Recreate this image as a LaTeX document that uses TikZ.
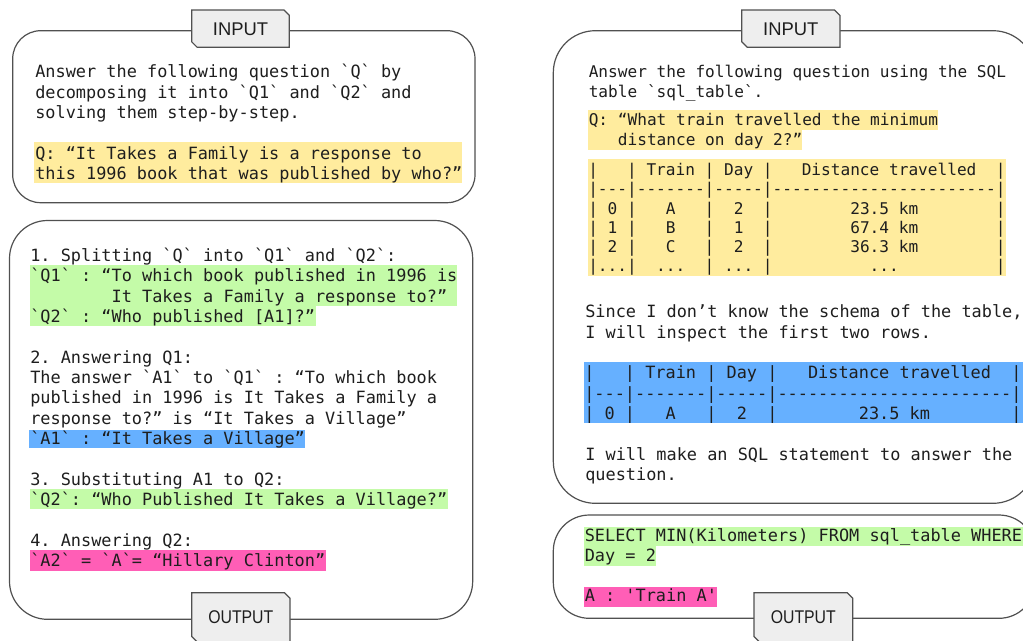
\documentclass[tikz,border=0pt]{standalone}
\usepackage{fontspec}
\usepackage{graphicx}
\setmonofont{DejaVu Sans Mono}
\setsansfont{Liberation Sans}
\frenchspacing
\definecolor{hlyellow}{HTML}{FFEC9E}
\definecolor{hlgreen}{HTML}{C4FBA8}
\definecolor{hlblue}{HTML}{66B0FF}
\definecolor{hlpink}{HTML}{FF5EB6}
\definecolor{taggray}{HTML}{EEEEEE}
\definecolor{edgegray}{HTML}{505050}
\definecolor{ink}{HTML}{1E1E1E}
\begin{document}
\begin{tikzpicture}[x=0.75pt,y=-0.75pt,
  box/.style={draw=edgegray, line width=0.9pt, fill=white},
  tagbox/.style={draw=edgegray, line width=0.9pt, fill=taggray},
  taglabel/.style={font=\sffamily\fontsize{13.8}{16}\selectfont, text=ink, inner sep=0},
  ltxt/.style={anchor=base west, inner sep=0, text=ink, font=\ttfamily\fontsize{12.67}{15}\selectfont},
  stxt/.style={anchor=base west, inner sep=0, text=ink, font=\ttfamily\fontsize{12.09}{14}\selectfont},
]
\useasboundingbox (0,0) rectangle (1023,640);
\clip (0,0) rectangle (1023,640);

% ---------- boxes ----------
\draw[box, rounded corners=21pt] (12.7,30.7) rectangle (475,202.7);
\draw[box, rounded corners=28.5pt] (9.5,220.5) rectangle (472.7,619.3);
\draw[box, rounded corners=31.5pt] (553.3,30.7) rectangle (1035,503.3);
\draw[box, rounded corners=27pt] (553.3,515) rectangle (1035,618.3);

% ---------- tags ----------
\draw[tagbox] (191.7,10) -- (284,10) -- (289.3,15.3) -- (289.3,47.3) -- (197.2,47.3) -- (191.7,41.8) -- cycle;
\node[taglabel] (tagLin) at (240.5,28.9) {INPUT};
\draw[tagbox] (191.7,592.7) -- (284.5,592.7) -- (290,598.2) -- (290,642) -- (197.2,642) -- (191.7,636.5) -- cycle;
\node[taglabel] (tagLout) at (240.8,617.6) {\scalebox{0.86}[1]{OUTPUT}};
\draw[tagbox] (741.7,10) -- (834.5,10) -- (840,15.5) -- (840,47.3) -- (747.2,47.3) -- (741.7,41.8) -- cycle;
\node[taglabel] (tagRin) at (790.8,28.9) {INPUT};
\draw[tagbox] (754,592.7) -- (847.2,592.7) -- (852.7,598.2) -- (852.7,642) -- (759.5,642) -- (754,636.5) -- cycle;
\node[taglabel] (tagRout) at (803.3,617.6) {\scalebox{0.86}[1]{OUTPUT}};

% ---------- highlights ----------
\fill[hlyellow] (34,141.7) rectangle (462,182.7);
\fill[hlgreen] (30,265) rectangle (457,305.7);
\fill[hlgreen] (30,305.6) rectangle (316,326);
\fill[hlblue] (29,430) rectangle (305,448.3);
\fill[hlgreen] (30,489.3) rectangle (447.7,509.3);
\fill[hlpink] (30,550) rectangle (325.7,570.7);

\fill[hlyellow] (588,110) rectangle (938.3,130.1);
\fill[hlyellow] (588,130) rectangle (801.7,150);
\fill[hlyellow] (588,159.3) rectangle (1006,276);
\fill[hlblue] (584,361.7) rectangle (1030,423.3);
\fill[hlgreen] (584,526.7) rectangle (1030,546.4);
\fill[hlgreen] (584,546.3) rectangle (656,565.7);
\fill[hlpink] (584,587.3) rectangle (716.7,607.3);

% ---------- left top text ----------
\node[ltxt] (lt1) at (35,77.7) {Answer the following question `Q` by};
\node[ltxt] (lt2) at (35,98.0) {decomposing it into `Q1` and `Q2` and};
\node[ltxt] (lt3) at (35,118.3) {solving them step-by-step.};
\node[ltxt] (lt4) at (35,159.3) {Q: “It Takes a Family is a response to};
\node[ltxt] (lt5) at (35,179.6) {this 1996 book that was published by who?”};

% ---------- left bottom text ----------
\node[ltxt] (lb0) at (30,261.4) {1. Splitting `Q` into `Q1` and `Q2`:};
\node[ltxt] (lb1) at (30,281.75) {`Q1` : “To which book published in 1996 is};
\node[ltxt] (lb2) at (30,302.1) {~~~~~~~~It Takes a Family a response to?”};
\node[ltxt] (lb3) at (30,322.45) {`Q2` : “Who published [A1]?”};
\node[ltxt] (lb5) at (30,363.15) {2. Answering Q1:};
\node[ltxt] (lb6) at (30,383.5) {The answer `A1` to `Q1` : “To which book};
\node[ltxt] (lb7) at (30,403.85) {published in 1996 is It Takes a Family a};
\node[ltxt] (lb8) at (30,424.2) {response to?” is “It Takes a Village”};
\node[ltxt] (lb9) at (30,444.55) {`A1` : “It Takes a Village”};
\node[ltxt] (lb11) at (30,485.25) {3. Substituting A1 to Q2:};
\node[ltxt] (lb12) at (30,505.6) {`Q2`: “Who Published It Takes a Village?”};
\node[ltxt] (lb14) at (30,546.3) {4. Answering Q2:};
\node[ltxt] (lb15) at (30,566.65) {`A2` = `A`= “Hillary Clinton”};

% ---------- right top text ----------
\node[stxt] (rt1) at (588.5,77.7) {Answer the following question using the SQL};
\node[stxt] (rt2) at (588.5,97.2) {table `sql\_table`.};
\node[stxt] (rt3) at (588.5,125.7) {Q: “What train travelled the minimum};
\node[stxt] (rt4) at (588.5,145.7) {~~~distance on day 2?”};
\node[stxt] (ya0) at (588,175.7) {|~~~|~Train~|~Day~|~~~Distance~travelled~~|};
\node[stxt] (ya1) at (588,194.9) {|---|-------|-----|-----------------------|};
\node[stxt] (ya2) at (588,214.1) {|~0~|~~~A~~~|~~2~~|~~~~~~~~23.5~km~~~~~~~~|};
\node[stxt] (ya3) at (588,233.3) {|~1~|~~~B~~~|~~1~~|~~~~~~~~67.4~km~~~~~~~~|};
\node[stxt] (ya4) at (588,252.5) {|~2~|~~~C~~~|~~2~~|~~~~~~~~36.3~km~~~~~~~~|};
\node[stxt] (ya5) at (588,271.7) {|...|~~...~~|~...~|~~~~~~~~~~...~~~~~~~~~~|};

\node[ltxt] (rs1) at (585,317.7) {Since I don’t know the schema of the table,};
\node[ltxt] (rs2) at (585,338.3) {I will inspect the first two rows.};
\node[ltxt] (bt0) at (584,378.5) {|~~~|~Train~|~Day~|~~~Distance~travelled~~|};
\node[ltxt] (bt1) at (584,399.0) {|---|-------|-----|-----------------------|};
\node[ltxt] (bt2) at (584,419.5) {|~0~|~~~A~~~|~~2~~|~~~~~~~~23.5~km~~~~~~~~|};
\node[ltxt] (rm1) at (585,460) {I will make an SQL statement to answer the};
\node[ltxt] (rm2) at (585,480.5) {question.};

% ---------- SQL box ----------
\node[ltxt] (sq1) at (584.5,541.7) {SELECT MIN(Kilometers) FROM sql\_table WHERE};
\node[ltxt] (sq2) at (584.5,561.7) {Day = 2};
\node[ltxt] (sq3) at (584.5,601.7) {A : 'Train A'};
\end{tikzpicture}
\end{document}
